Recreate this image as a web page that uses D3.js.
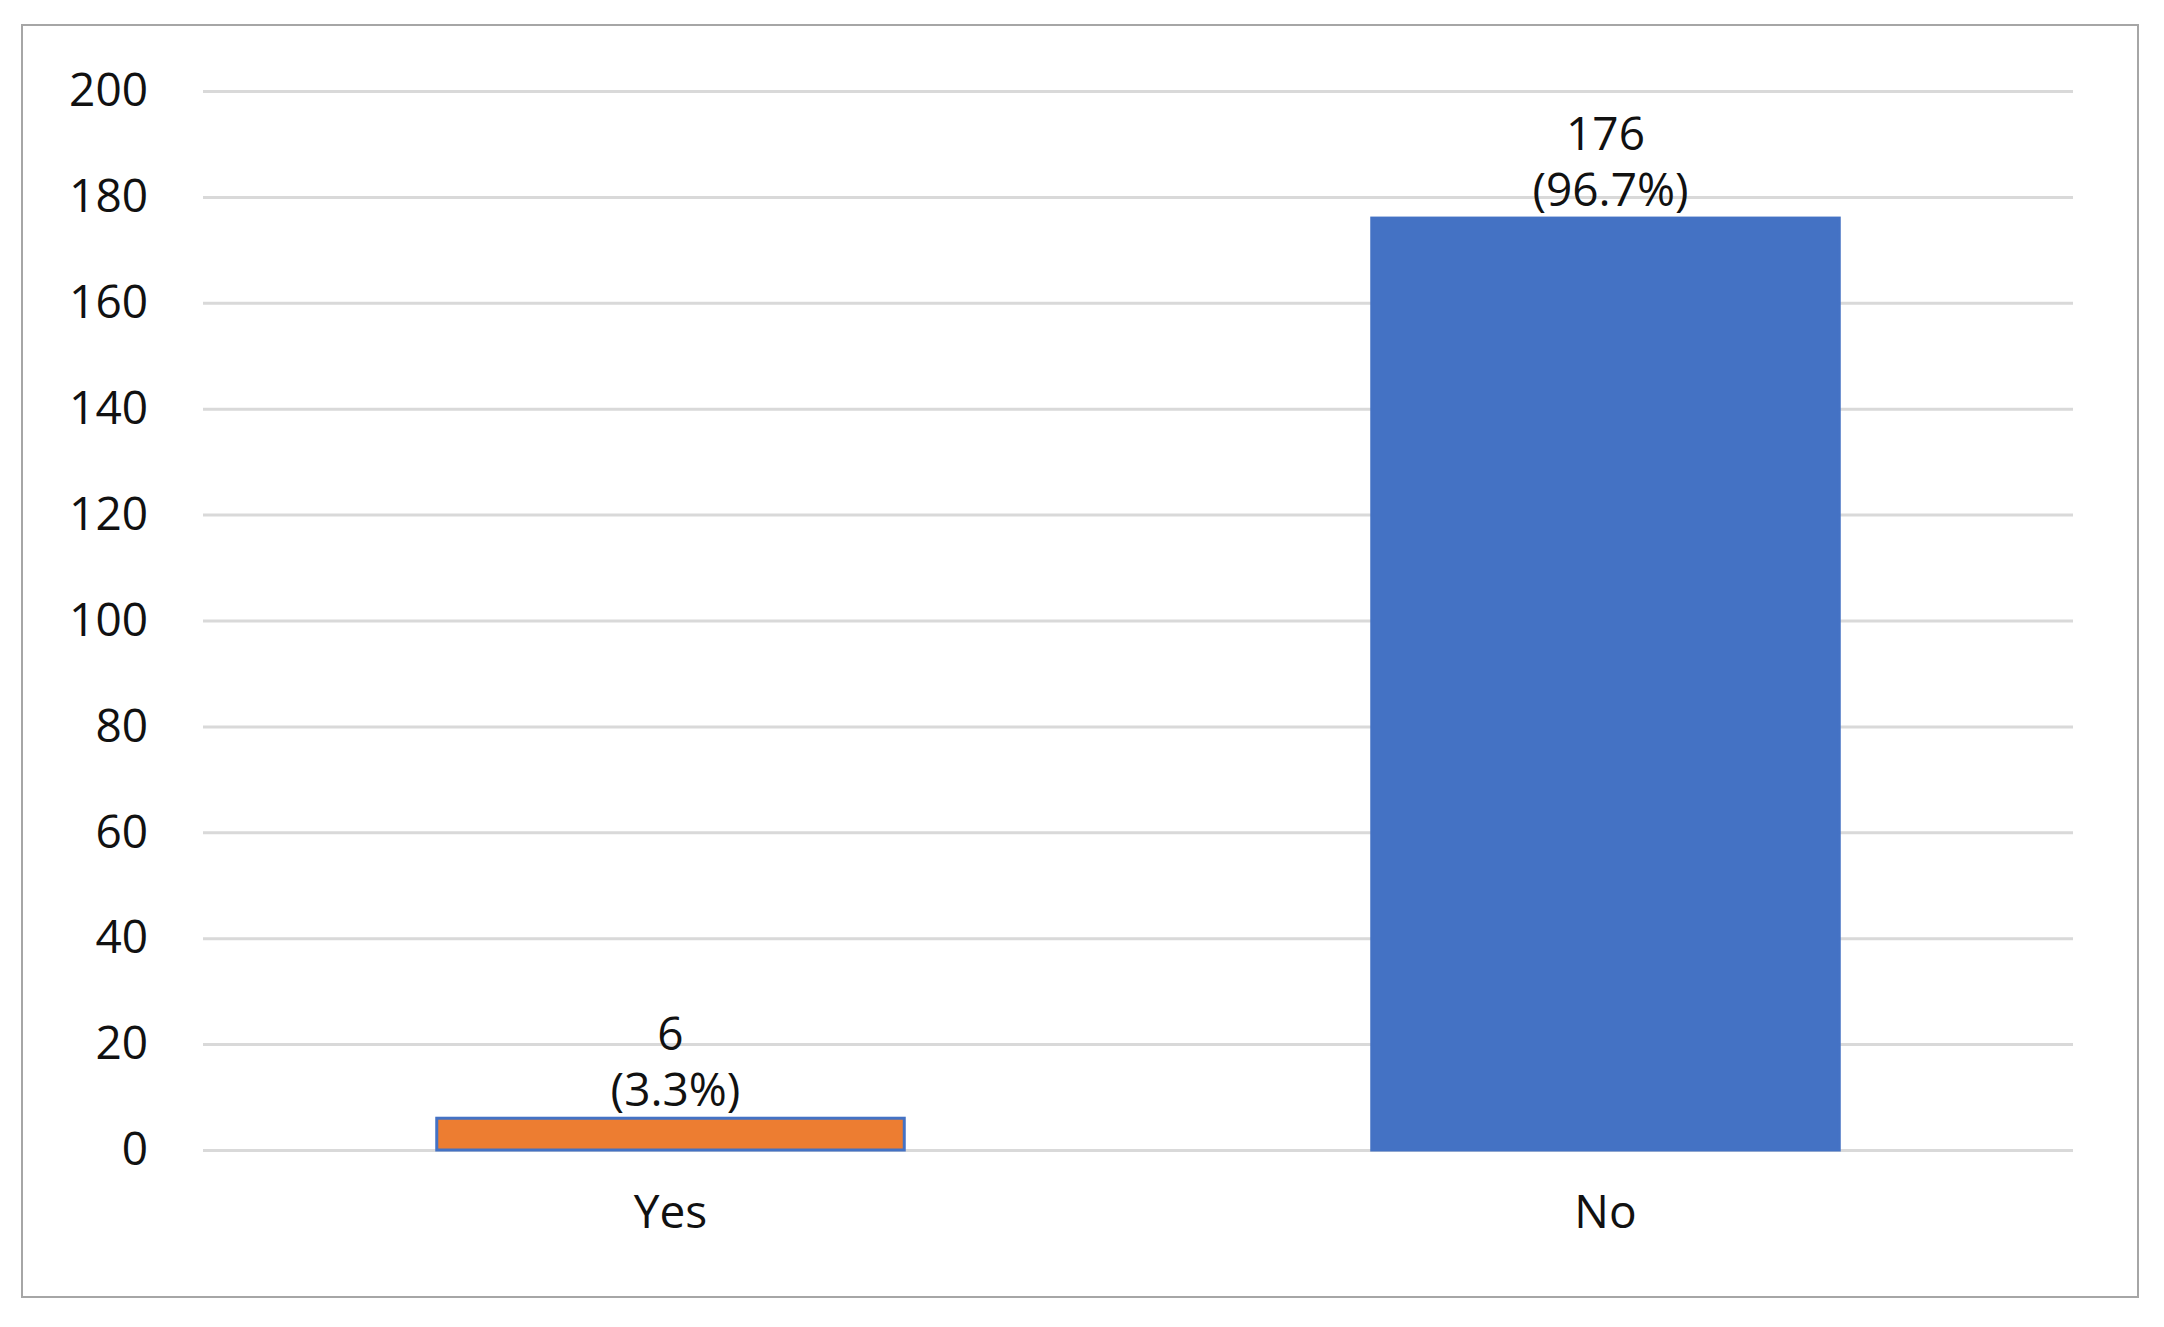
<!DOCTYPE html>
<html><head><meta charset="utf-8">
<script src="https://cdn.jsdelivr.net/npm/d3@7"></script>
<style>body{margin:0;background:#fff}text{font-family:"Open Sans",Lato,sans-serif;fill:#111}</style>
</head><body><svg id="c" width="2164" height="1327"></svg>
<script>
const categories = ["Yes","No"];
const values = [6,176];
const percents = ["3.3%","96.7%"];
const colors = ["#ED7D31","#4472C4"];
const yTicks = [0,20,40,60,80,100,120,140,160,180,200];

const svg = d3.select("#c");
svg.append("rect").attr("x",22).attr("y",25).attr("width",2116).attr("height",1272)
  .attr("fill","#fff").attr("stroke","#a6a6a6").attr("stroke-width",2);
const x = d3.scaleBand().domain(categories).range([203,2073]).paddingInner(0.5).paddingOuter(0.25);
const y = d3.scaleLinear().domain([0,200]).range([1150,91]);

const ya = svg.append("g").attr("transform","translate(203,0)")
  .call(d3.axisLeft(y).tickValues(yTicks).tickSize(-1870).tickPadding(55));
ya.select(".domain").remove();
ya.selectAll("line").attr("stroke","#d9d9d9").attr("stroke-width",3);
ya.selectAll("text").attr("font-size",46).attr("fill","#111");

svg.selectAll("rect.bar").data(categories).join("rect").attr("class","bar")
  .attr("x",d=>x(d)).attr("width",x.bandwidth())
  .attr("y",(d,i)=>y(values[i])).attr("height",(d,i)=>y(0)-y(values[i]))
  .attr("fill",(d,i)=>colors[i]).attr("stroke","#4472C4").attr("stroke-width",3);

const xa = svg.append("g").attr("transform","translate(0,1150)")
  .call(d3.axisBottom(x).tickSize(0).tickPadding(45));
xa.select(".domain").remove();
xa.selectAll("text").attr("font-size",46).attr("fill","#111");

categories.forEach((c,i)=>{
  const cx = x(c)+x.bandwidth()/2, top=y(values[i]);
  svg.append("text").attr("x",cx).attr("y",top-68).attr("text-anchor","middle").attr("font-size",46).text(values[i]);
  svg.append("text").attr("x",cx+5).attr("y",top-0).attr("dy",-0).attr("text-anchor","middle").attr("font-size",46)
    .attr("transform","translate(0,-12)").text("("+percents[i]+")");
});
</script></body></html>
